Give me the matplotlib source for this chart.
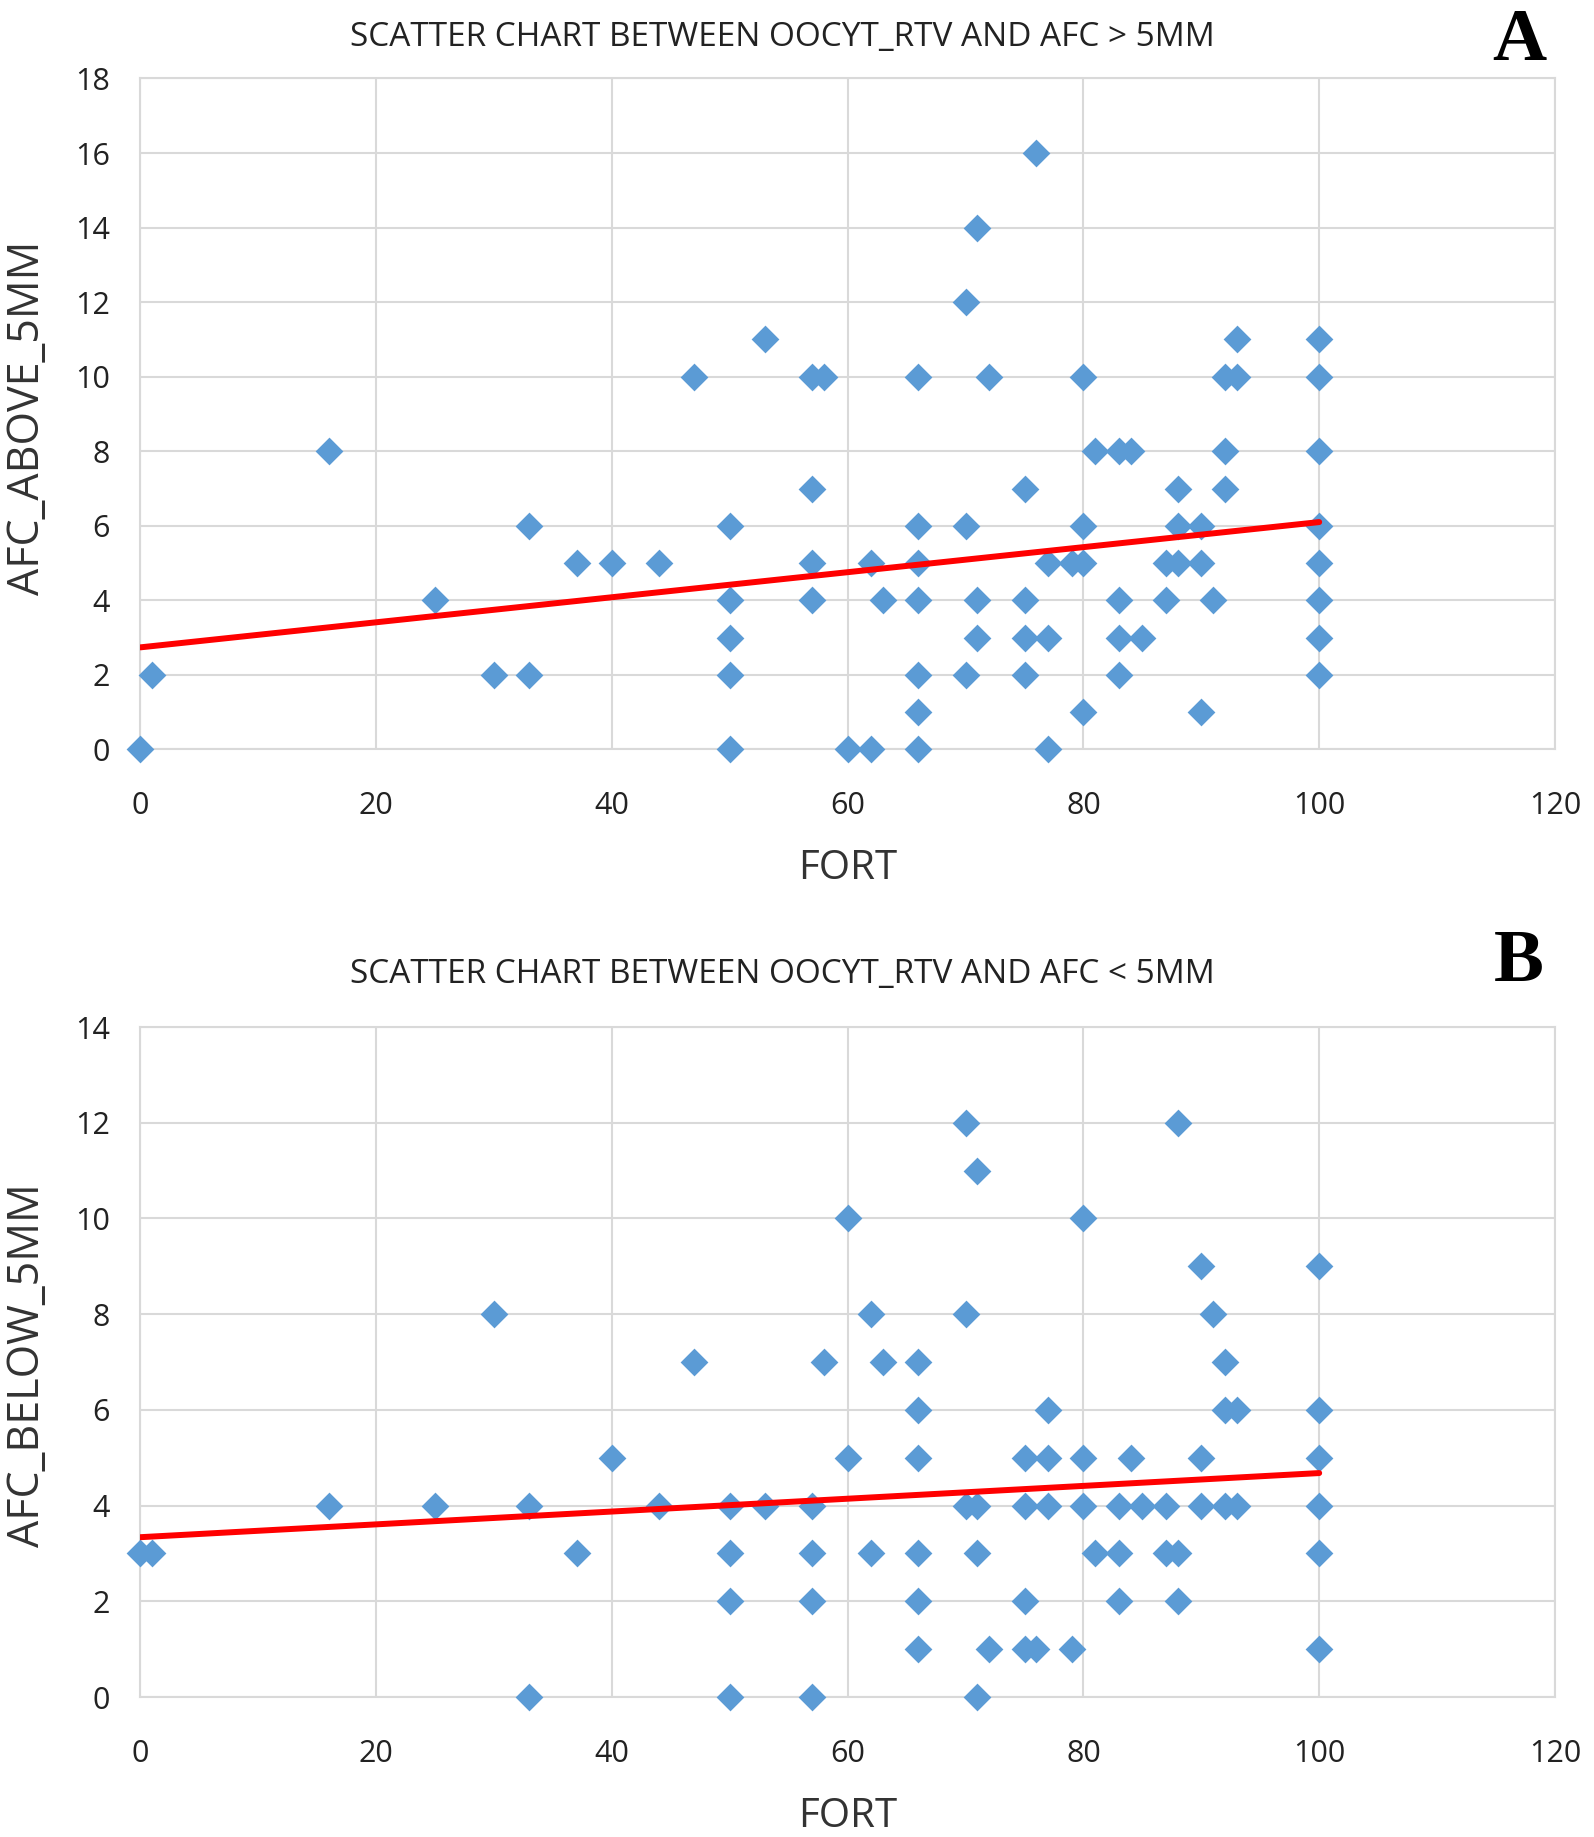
import numpy as np
import matplotlib
matplotlib.use("Agg")
import matplotlib.pyplot as plt

plt.rcParams['font.family'] = ['Open Sans', 'DejaVu Sans']

# Panel A: FORT vs AFC above 5mm
fort_a = [0, 1, 16, 25, 30, 33, 33, 37, 40, 44, 47,
          50, 50, 50, 50, 50, 53, 57, 58, 57, 57, 57,
          60, 62, 62, 63, 66, 66, 66, 66, 66, 66, 66,
          70, 70, 70, 71, 71, 71, 72, 75, 75, 75, 75, 76,
          77, 77, 77, 79, 80, 80, 80, 80, 81, 83, 84,
          83, 83, 83, 85, 87, 87, 88, 88, 88, 90, 90, 90,
          91, 92, 93, 93, 92, 92,
          100, 100, 100, 100, 100, 100, 100, 100]
afc_above = [0, 2, 8, 4, 2, 2, 6, 5, 5, 5, 10,
             6, 4, 3, 2, 0, 11, 10, 10, 7, 5, 4,
             0, 0, 5, 4, 10, 6, 5, 4, 2, 1, 0,
             12, 6, 2, 14, 4, 3, 10, 7, 4, 3, 2, 16,
             5, 3, 0, 5, 10, 6, 5, 1, 8, 8, 8,
             4, 3, 2, 3, 5, 4, 7, 6, 5, 6, 5, 1,
             4, 10, 10, 11, 8, 7,
             11, 10, 8, 6, 5, 4, 3, 2]
# trendline as drawn in the chart (value at FORT=0 and at FORT=100)
trend_a = [2.74, 6.10]

# Panel B: FORT vs AFC below 5mm
fort_b = [0, 1, 16, 25, 30, 33, 33, 37, 40, 44, 47,
          50, 50, 50, 50, 53, 57, 57, 57, 57, 58,
          60, 60, 62, 62, 63, 66, 66, 66, 66, 66, 66,
          70, 71, 70, 70, 71, 71, 71, 72,
          75, 77, 77, 75, 77, 75, 75, 76, 79,
          80, 80, 80, 81, 83, 83, 83, 84, 85, 87, 87, 88, 88, 88,
          90, 90, 90, 91, 92, 92, 93, 92, 93,
          100, 100, 100, 100, 100, 100]
afc_below = [3, 3, 4, 4, 8, 4, 0, 3, 5, 4, 7,
             4, 3, 2, 0, 4, 4, 3, 2, 0, 7,
             10, 5, 3, 8, 7, 7, 6, 5, 3, 2, 1,
             12, 11, 8, 4, 4, 3, 0, 1,
             5, 5, 6, 4, 4, 2, 1, 1, 1,
             10, 5, 4, 3, 3, 4, 2, 5, 4, 4, 3, 3, 2, 12,
             9, 5, 4, 8, 7, 6, 6, 4, 4,
             9, 6, 5, 4, 3, 1]
trend_b = [3.34, 4.68]

trend_x = [0, 100]
x_ticks = [0, 20, 40, 60, 80, 100, 120]

panels = [
    dict(x=fort_a, y=afc_above, trend=trend_a, ymax=18, ylabel="AFC_ABOVE_5MM",
         title="SCATTER CHART BETWEEN OOCYT_RTV AND AFC > 5MM", letter="A",
         rect=[0.0881, 0.592, 0.8874, 0.3653], title_y=0.9795, letter_y=0.977),
    dict(x=fort_b, y=afc_below, trend=trend_b, ymax=14, ylabel="AFC_BELOW_5MM",
         title="SCATTER CHART BETWEEN OOCYT_RTV AND AFC < 5MM", letter="B",
         rect=[0.0881, 0.0762, 0.8874, 0.3647], title_y=0.4697, letter_y=0.4757),
]

fig = plt.figure(figsize=(15.94, 18.37), dpi=100)
grid_color = "#d9d9d9"

for p in panels:
    ax = fig.add_axes(p["rect"])
    ax.scatter(p["x"], p["y"], marker="D", s=200, color="#5b9bd5", zorder=3,
               clip_on=False, linewidths=0)
    ax.plot(trend_x, p["trend"], color="#ff0000", lw=4.3, zorder=4,
            solid_capstyle="round")

    ax.set_xlim(0, 120)
    ax.set_ylim(0, p["ymax"])
    ax.set_xticks(x_ticks)
    ax.set_yticks(range(0, p["ymax"] + 1, 2))
    ax.grid(True, color=grid_color, lw=1.5)
    ax.set_axisbelow(True)
    for s in ax.spines.values():
        s.set_color(grid_color)
        s.set_linewidth(1.5)
    ax.tick_params(length=0, labelsize=22, colors="#222222")
    ax.tick_params(axis="x", pad=30)
    ax.tick_params(axis="y", pad=22)

    ax.set_xlabel("FORT", fontsize=29, color="#333333", va="center")
    ax.xaxis.set_label_coords(0.5, -0.178)
    ax.set_ylabel(p["ylabel"], fontsize=31, color="#333333", va="center")
    ax.yaxis.set_label_coords(-0.08, 0.495)

    fig.text(0.4906, p["title_y"], p["title"], fontsize=24, color="#222222",
             ha="center", va="center")
    fig.text(0.953, p["letter_y"], p["letter"], fontsize=54, fontweight="bold",
             family="Liberation Serif", ha="center", va="center")

fig.savefig("out.png", dpi=100, facecolor="white")
